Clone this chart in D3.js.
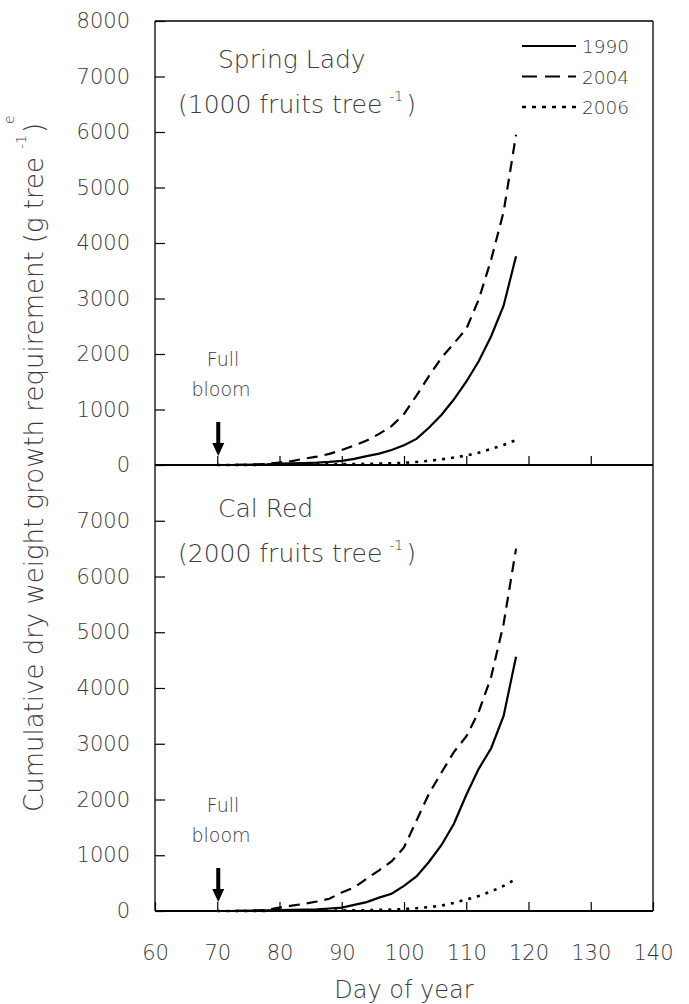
<!DOCTYPE html>
<html>
<head>
<meta charset="utf-8">
<script src="https://cdn.jsdelivr.net/npm/d3@7"></script>
<style>
  body { margin: 0; background: #fff; }
  text { font-family: "DejaVu Sans", sans-serif; font-weight: 200; fill: #3a3a3a; }
</style>
</head>
<body>
<script>
var canvasWidth = 689;
var canvasHeight = 1004;

/*Data*/
var days = [70, 72, 74, 76, 78, 80, 82, 84, 86, 88, 90, 92, 94, 96, 98, 100, 102, 104, 106, 108, 110, 112, 114, 116, 118];
var years = ["1990", "2004", "2006"];

var springLady1990 = [0, 0, 3, 6, 12, 25, 30, 35, 42, 55, 75, 110, 160, 205, 270, 355, 470, 670, 900, 1180, 1500, 1870, 2320, 2870, 3760];
var springLady2004 = [0, 0, 3, 8, 20, 45, 70, 115, 150, 200, 270, 350, 440, 560, 700, 920, 1250, 1600, 1930, 2190, 2450, 2980, 3700, 4560, 5950];
var springLady2006 = [0, 0, 0, 2, 4, 6, 8, 10, 12, 14, 16, 18, 20, 24, 30, 40, 55, 75, 100, 135, 170, 220, 290, 360, 450];

var calRed1990 = [0, 0, 3, 6, 10, 15, 20, 25, 30, 45, 60, 110, 160, 240, 310, 450, 620, 880, 1180, 1560, 2080, 2550, 2920, 3500, 4560];
var calRed2004 = [0, 0, 3, 8, 20, 60, 95, 130, 170, 220, 330, 420, 580, 730, 890, 1140, 1620, 2100, 2480, 2850, 3130, 3570, 4200, 5150, 6500];
var calRed2006 = [0, 0, 0, 2, 3, 4, 5, 6, 7, 8, 10, 12, 15, 20, 25, 35, 50, 70, 95, 145, 205, 270, 350, 450, 575];

var xTicks = [60, 70, 80, 90, 100, 110, 120, 130, 140];
var yTicksTop = [0, 1000, 2000, 3000, 4000, 5000, 6000, 7000, 8000];
var yTicksBottom = [0, 1000, 2000, 3000, 4000, 5000, 6000, 7000];
var fullBloomDay = 70;

/*SVG*/
var svg = d3.select("body").append("svg")
    .attr("width", canvasWidth)
    .attr("height", canvasHeight);

/*Scales*/
var xScale = d3.scaleLinear().domain([60, 140]).range([155, 653]);
var yTop = d3.scaleLinear().domain([0, 8000]).range([465, 21]);
var yBottom = d3.scaleLinear().domain([0, 8000]).range([911, 465]);
var dashFor = d3.scaleOrdinal().domain(years).range(["none", "11,7", "3,6"]);
var widthFor = d3.scaleOrdinal().domain(years).range([2.2, 2.2, 2.6]);

var panels = [
    {y: yTop, ticks: yTicksTop, title: "Spring Lady", fruits: "(1000 fruits tree",
     series: [springLady1990, springLady2004, springLady2006], labels: false},
    {y: yBottom, ticks: yTicksBottom, title: "Cal Red", fruits: "(2000 fruits tree",
     series: [calRed1990, calRed2004, calRed2006], labels: true}
];

panels.forEach(function (p) {
    var zero = p.y(0);

    /*Y axis ticks, pointing in*/
    var ya = svg.append("g")
        .attr("transform", "translate(155,0)")
        .call(d3.axisLeft(p.y).tickValues(p.ticks).tickFormat(d3.format("d"))
            .tickSizeInner(-10).tickSizeOuter(0).tickPadding(25));
    ya.select(".domain").remove();
    ya.selectAll("line").attr("stroke", "#000").attr("stroke-width", 1.2);
    ya.selectAll("text").attr("font-size", 21).style("fill", "#3a3a3a");

    /*X axis ticks, pointing in*/
    var xa = svg.append("g")
        .attr("transform", "translate(0," + zero + ")")
        .call(d3.axisBottom(xScale).tickValues(p.labels ? xTicks : xTicks.slice(1, -1))
            .tickFormat(d3.format("d"))
            .tickSizeInner(-9).tickSizeOuter(0).tickPadding(34));
    xa.select(".domain").remove();
    xa.selectAll("line").attr("stroke", "#000").attr("stroke-width", 1.2);
    if (p.labels) {
        xa.selectAll("text").attr("font-size", 21).style("fill", "#3a3a3a");
    } else {
        xa.selectAll("text").remove();
    }

    /*Zero line*/
    svg.append("line")
        .attr("x1", xScale(60)).attr("x2", xScale(140))
        .attr("y1", zero).attr("y2", zero)
        .attr("stroke", "#000").attr("stroke-width", 2);

    /*Curves*/
    var line = d3.line()
        .x(function (d, i) { return xScale(days[i]); })
        .y(function (d) { return p.y(d); });

    svg.selectAll(null)
        .data(p.series)
        .join("path")
        .attr("fill", "none")
        .attr("stroke", "#000")
        .attr("stroke-width", function (d, i) { return widthFor(years[i]); })
        .attr("stroke-dasharray", function (d, i) { return dashFor(years[i]); })
        .attr("d", line);

    /*Titles*/
    svg.append("text")
        .attr("x", 218).attr("y", zero - 397 + (p.labels ? 3 : 0))
        .attr("font-size", 25)
        .text(p.title);

    var t = svg.append("text")
        .attr("x", 178).attr("y", zero - 352 + (p.labels ? 3 : 0))
        .attr("font-size", 25);
    t.append("tspan").text(p.fruits);
    t.append("tspan").attr("dx", 7).attr("dy", -12).attr("font-size", 14).text("-1");
    t.append("tspan").attr("dx", 3).attr("dy", 12).text(")");

    /*Full bloom note and arrow*/
    svg.append("text")
        .attr("x", 223).attr("y", zero - 99)
        .attr("text-anchor", "middle").attr("font-size", 19)
        .text("Full");
    svg.append("text")
        .attr("x", 221).attr("y", zero - 69)
        .attr("text-anchor", "middle").attr("font-size", 19)
        .text("bloom");

    var ax = xScale(fullBloomDay) + 1;
    svg.append("path")
        .attr("d", "M" + (ax - 2) + "," + (zero - 43) + "H" + (ax + 2) + "V" + (zero - 22)
            + "H" + (ax + 6) + "L" + ax + "," + (zero - 9) + "L" + (ax - 6) + "," + (zero - 22)
            + "H" + (ax - 2) + "Z")
        .attr("fill", "#000");
});

/*Frame*/
svg.append("line").attr("x1", 155).attr("x2", 155).attr("y1", 21).attr("y2", 911)
    .attr("stroke", "#000").attr("stroke-width", 1.3);
svg.append("line").attr("x1", 653).attr("x2", 653).attr("y1", 21).attr("y2", 911)
    .attr("stroke", "#000").attr("stroke-width", 1.3);
svg.append("line").attr("x1", 155).attr("x2", 653).attr("y1", 21).attr("y2", 21)
    .attr("stroke", "#000").attr("stroke-width", 1.3);

/*Legend*/
var legend = svg.append("g").attr("class", "legend");
years.forEach(function (yr, i) {
    var ly = 46 + i * 30.5;
    legend.append("line")
        .attr("x1", 522).attr("x2", 576).attr("y1", ly).attr("y2", ly)
        .attr("stroke", "#000")
        .attr("stroke-width", widthFor(yr))
        .attr("stroke-dasharray", dashFor(yr) === "3,6" ? "4,6" : (dashFor(yr) === "11,7" ? "15,8" : "none"));
    legend.append("text")
        .attr("x", 582).attr("y", ly + 7)
        .attr("font-size", 18.5)
        .text(yr);
});

/*Axis titles*/
svg.append("text")
    .attr("x", xScale(100)).attr("y", 998)
    .attr("text-anchor", "middle").attr("font-size", 24)
    .text("Day of year");

var yl = svg.append("text")
    .attr("transform", "translate(43,812) rotate(-90)")
    .attr("font-size", 26);
yl.append("tspan").text("Cumulative dry weight growth requirement");
yl.append("tspan").attr("dx", 8).text("(g tree");
yl.append("tspan").attr("dx", 8).attr("dy", -17).attr("font-size", 14).text("-1");
yl.append("tspan").attr("dx", 2).attr("dy", 17).text(")");

/*stray glyph at the left edge*/
svg.append("text")
    .attr("transform", "translate(14,124) rotate(-90)")
    .attr("font-size", 14)
    .text("e");
</script>
</body>
</html>
